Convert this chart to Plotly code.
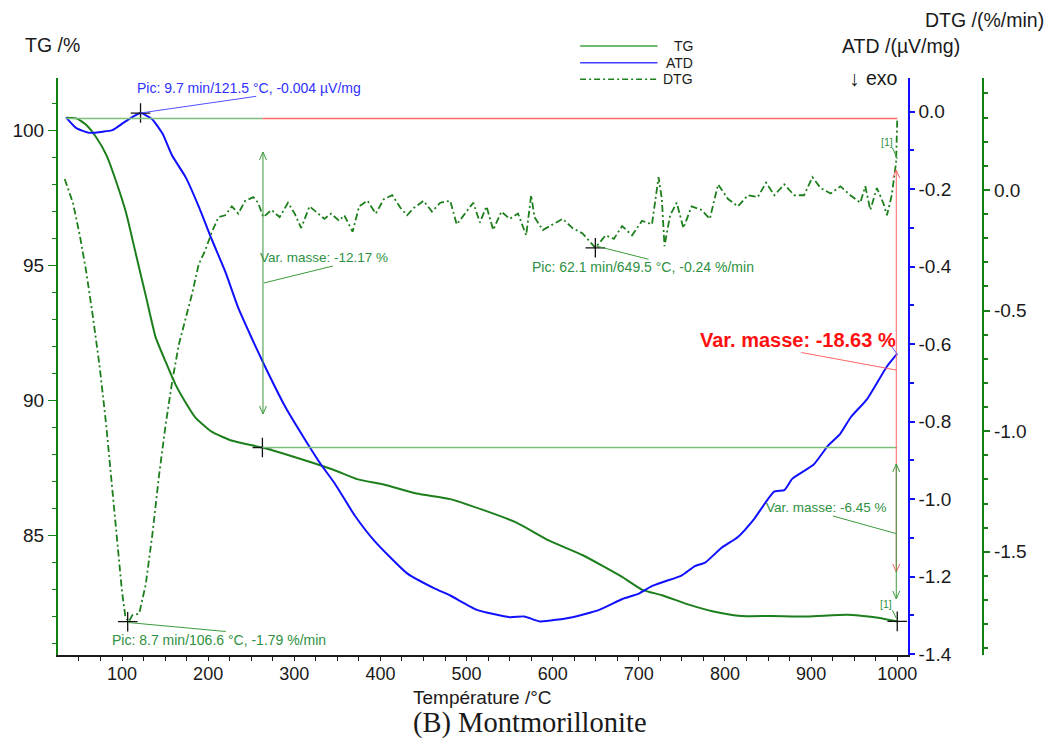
import plotly.graph_objects as go

# ---------------------------------------------------------------
# Data (temperature in °C)
# ---------------------------------------------------------------
TG_T = [35, 47, 58, 70, 82, 93, 105, 116, 128, 139, 151, 162, 174, 185, 204,
        228, 263, 300, 346, 373, 404, 442, 481, 519, 558, 596, 635, 681, 704,
        727, 757, 788, 819, 854, 896, 942, 972, 1000]
TG_PCT = [100.45, 100.43, 100.2, 99.73, 99.06, 98.11, 96.9, 95.42, 93.81, 92.33,
          91.39, 90.58, 89.9, 89.36, 88.83, 88.49, 88.24, 87.89, 87.41, 87.07,
          86.87, 86.54, 86.33, 85.93, 85.46, 84.79, 84.25, 83.44, 82.97, 82.77,
          82.43, 82.16, 82.0, 82.0, 81.98, 82.05, 81.96, 81.80]

ATD_T = [35, 47, 62, 78, 89, 105, 121.5, 135, 147, 158, 174, 189, 204, 220, 235,
         250, 266, 289, 312, 331, 347, 370, 393, 431, 462, 481, 512, 550, 567,
         585, 623, 654, 681, 700, 715, 730, 750, 765, 777, 796, 815, 834, 857,
         869, 878, 903, 919, 934, 946, 965, 988, 1000]
ATD_UV = [-0.015, -0.043, -0.055, -0.052, -0.048, -0.024, -0.004, -0.02, -0.057,
          -0.113, -0.17, -0.245, -0.329, -0.414, -0.507, -0.582, -0.658, -0.76,
          -0.845, -0.911, -0.96, -1.042, -1.108, -1.192, -1.23, -1.249, -1.286,
          -1.305, -1.303, -1.316, -1.305, -1.286, -1.258, -1.244, -1.225, -1.213,
          -1.197, -1.173, -1.164, -1.126, -1.098, -1.051, -0.981, -0.977, -0.948,
          -0.911, -0.864, -0.831, -0.789, -0.742, -0.658, -0.625]

DTG_T = [33.5, 37, 43, 51, 58.5, 66, 74, 81.6, 89, 95, 100, 104, 108, 112, 116,
         120, 127.6, 135.4, 143, 150.7, 158.4, 166, 173.7, 181.4, 189, 196.8,
         204.5, 212, 219.8, 227.5, 235, 243, 252.5, 258, 264, 273.6, 283, 292.7,
         300.5, 308, 317.7, 327.3, 335, 342.7, 352, 358, 367.7, 375.3, 385, 394.6,
         404, 413.7, 423.4, 431, 438.7, 450, 459.8, 469.4, 481, 488.6, 498.3,
         507.8, 515.5, 523.2, 530.9, 540.4, 550, 559.7, 569.2, 575, 578.9, 588.5,
         600, 611.5, 623, 634.6, 649.5, 661.4, 671, 680.6, 692.2, 703.7, 715.2,
         722.9, 726.7, 729.8, 736.3, 744, 751.7, 761.3, 772.8, 782.4, 792, 803.6,
         815, 826.6, 838, 847.7, 857.3, 868.8, 880.3, 891.8, 901.5, 911, 922.6,
         934, 945.6, 957.1, 962.9, 968.7, 976.3, 984, 988, 993.6, 998.6, 1000]
DTG_RATE = [0.045, 0.008, -0.053, -0.188, -0.339, -0.52, -0.731, -0.972, -1.243,
            -1.469, -1.665, -1.771, -1.79, -1.763, -1.76, -1.756, -1.635, -1.424,
            -1.183, -0.972, -0.791, -0.641, -0.535, -0.43, -0.309, -0.249, -0.173,
            -0.113, -0.105, -0.068, -0.098, -0.045, -0.03, -0.053, -0.113, -0.083,
            -0.113, -0.053, -0.098, -0.158, -0.068, -0.098, -0.12, -0.098, -0.128,
            -0.105, -0.173, -0.068, -0.045, -0.098, -0.038, -0.022, -0.075, -0.105,
            -0.075, -0.045, -0.09, -0.053, -0.045, -0.143, -0.098, -0.053, -0.135,
            -0.068, -0.166, -0.09, -0.12, -0.098, -0.188, -0.022, -0.113, -0.166,
            -0.143, -0.12, -0.158, -0.18, -0.24, -0.188, -0.203, -0.15, -0.188,
            -0.128, -0.143, 0.053, -0.038, -0.233, -0.105, -0.053, -0.158, -0.068,
            -0.083, -0.12, 0.023, -0.038, -0.068, -0.022, -0.03, 0.03, -0.022,
            0.023, -0.022, -0.022, 0.053, 0.008, -0.015, 0.015, -0.022, -0.053,
            0.015, -0.083, 0.008, -0.056, -0.105, -0.022, 0.113, 0.294]

# peaks / steps given by the software labels
ATD_PEAK_T, ATD_PEAK = [121.5], [-0.004]
DTG_PEAK_T, DTG_PEAK = [106.6, 649.5], [-1.79, -0.24]
TG_STEP_T, TG_STEP = [263, 1000], [88.24, 81.80]
TG_START = 100.43

X_TICKS = [100, 200, 300, 400, 500, 600, 700, 800, 900, 1000]
TG_TICKS = [85, 90, 95, 100]
ATD_TICKS = [0.0, -0.2, -0.4, -0.6, -0.8, -1.0, -1.2, -1.4]
ATD_LABELS = ["0.0", "-0.2", "-0.4", "-0.6", "-0.8", "-1.0", "-1.2", "-1.4"]
DTG_TICKS = [0.0, -0.5, -1.0, -1.5]
DTG_LABELS = ["0.0", "-0.5", "-1.0", "-1.5"]

# ---------------------------------------------------------------
# Page geometry (pixels) -> paper coords
# ---------------------------------------------------------------
W, H = 1046, 740
ML, MR, MT, MB = 51, 46, 78, 85
PW, PH = W - ML - MR, H - MT - MB


def px(x):
    return (x - ML) / PW


def py(y):
    return (H - MB - y) / PH


GREEN = "#1c7f1c"
LGREEN = "#7cc07c"
BLUE = "#1010ff"
RED = "#ff6666"
TXT_GREEN = "#2e9142"
FONT = "Liberation Sans, Arial, sans-serif"

fig = go.Figure()

fig.add_trace(go.Scatter(
    x=TG_T, y=TG_PCT, mode="lines", yaxis="y",
    line=dict(color=GREEN, width=2, shape="spline", smoothing=0.5),
    hoverinfo="skip"))
fig.add_trace(go.Scatter(
    x=ATD_T, y=ATD_UV, mode="lines", yaxis="y2",
    line=dict(color=BLUE, width=2, shape="spline", smoothing=0.5),
    hoverinfo="skip"))
fig.add_trace(go.Scatter(
    x=DTG_T, y=DTG_RATE, mode="lines", yaxis="y3",
    line=dict(color=GREEN, width=1.8, dash="7px,3px,2px,3px"),
    hoverinfo="skip"))

# "+" markers on the picked points
cross = dict(symbol="cross-thin", size=14, line=dict(width=1.3, color="#111111"))
fig.add_trace(go.Scatter(x=ATD_PEAK_T, y=ATD_PEAK, mode="markers", yaxis="y2",
                         marker=cross, hoverinfo="skip"))
fig.add_trace(go.Scatter(x=DTG_PEAK_T, y=DTG_PEAK, mode="markers", yaxis="y3",
                         marker=cross, hoverinfo="skip"))
fig.add_trace(go.Scatter(x=TG_STEP_T, y=TG_STEP, mode="markers", yaxis="y",
                         marker=cross, hoverinfo="skip"))

shapes = []


def line_px(x0, y0, x1, y1, color, width=1, dash=None):
    shapes.append(dict(type="line", xref="paper", yref="paper",
                       x0=px(x0), y0=py(y0), x1=px(x1), y1=py(y1),
                       line=dict(color=color, width=width, dash=dash)))


def varrow(x, ytop, ybot, color):
    line_px(x, ytop, x, ybot, color, 1)
    for tip, s in ((ytop, 1), (ybot, -1)):
        shapes.append(dict(
            type="path", xref="paper", yref="paper",
            path=f"M {px(x - 3.5)},{py(tip + 8 * s)} L {px(x)},{py(tip)} "
                 f"L {px(x + 3.5)},{py(tip + 8 * s)}",
            line=dict(color=color, width=1)))


# step baselines (data coords)
shapes.append(dict(type="line", xref="x", yref="y", x0=TG_T[0], x1=TG_STEP_T[0],
                   y0=TG_START, y1=TG_START, line=dict(color=LGREEN, width=1.5)))
shapes.append(dict(type="line", xref="x", yref="y", x0=TG_STEP_T[0], x1=TG_STEP_T[1],
                   y0=TG_START, y1=TG_START, line=dict(color=RED, width=1.5)))
shapes.append(dict(type="line", xref="x", yref="y", x0=TG_STEP_T[0], x1=TG_STEP_T[1],
                   y0=TG_STEP[0], y1=TG_STEP[0], line=dict(color=LGREEN, width=1.5)))

# mass-change arrows
varrow(257.5, 152, 414, "#3c9a3c")
varrow(895.5, 170, 572, RED)
varrow(895.5, 464, 599, "#3c9a3c")

# leader lines
line_px(134.2, 113, 250.7, 96.3, "#5050ff")
line_px(258.3, 283, 328, 266, "#3c9a3c")
line_px(593.3, 246, 646, 259.3, "#3c9a3c")
line_px(121.7, 622.5, 220, 631.5, "#3c9a3c")
line_px(831.7, 516, 895, 533.5, "#3c9a3c")
line_px(800, 352.5, 895.3, 370, RED)
line_px(886.7, 340.8, 897, 355, "#6060ff")
line_px(891.7, 148, 896.7, 159, "#3c9a3c")
line_px(891.7, 610.5, 896, 618.9, "#3c9a3c")

# legend samples
line_px(577, 46, 655, 46, "#3fa33f", 1.5)
line_px(577, 62.7, 655, 62.7, "#4040ff", 1.5)
line_px(577, 79.3, 655, 79.3, GREEN, 1.5, "6px,3px,2px,3px")

annotations = []
PAD = 5  # plotly adds a few px of padding inside left-anchored annotations


def text_px(s, x, y, anchor="left", size=14, color="#1a1a1a", family=FONT, bold=False):
    if anchor == "left":
        x -= PAD
    annotations.append(dict(
        text=f"<b>{s}</b>" if bold else s, xref="paper", yref="paper",
        x=px(x), y=py(y), xanchor=anchor, yanchor="middle", showarrow=False,
        font=dict(size=size, color=color, family=family), borderpad=0))


text_px("TG /%", 22, 45, size=19.5)
text_px("ATD /(µV/mg)", 845, 46, size=19.5)
text_px("DTG /(%/min)", 1045, 20, anchor="right", size=19.5)
text_px("↓", 853, 78, anchor="center", size=21)
text_px("exo", 869, 78, size=19.5)
text_px("Température /°C", 479, 697, anchor="center", size=19)
text_px("(B) Montmorillonite", 527, 723, anchor="center", size=28.5,
        family="Liberation Serif, Times New Roman, serif")

text_px("TG", 692, 46, anchor="right", size=14)
text_px("ATD", 692, 62.7, anchor="right", size=14)
text_px("DTG", 692, 79.3, anchor="right", size=14)

text_px("Pic: 9.7 min/121.5 °C, -0.004 µV/mg", 135, 88, color="#3030ff")
text_px("Var. masse: -12.17 %", 258.6, 257, size=13.5, color=TXT_GREEN)
text_px("Pic: 62.1 min/649.5 °C, -0.24 %/min", 532.5, 267.4, color=TXT_GREEN)
text_px("Pic: 8.7 min/106.6 °C, -1.79 %/min", 109, 640, color=TXT_GREEN)
text_px("Var. masse: -6.45 %", 768.3, 508, size=13.5, color=TXT_GREEN)
text_px("Var. masse: -18.63 %", 701.7, 340, size=20, color="#ff1010", bold=True)
text_px("[1]", 884, 142, size=10.5, color=TXT_GREEN)
text_px("[1]", 883, 604.4, size=10.5, color=TXT_GREEN)

tick_font = dict(family=FONT, size=19, color="#1a1a1a")

fig.update_layout(
    width=W, height=H,
    margin=dict(l=ML, r=MR, t=MT, b=MB),
    paper_bgcolor="white", plot_bgcolor="white",
    showlegend=False, hovermode=False,
    font=dict(family=FONT),
    shapes=shapes, annotations=annotations,
    xaxis=dict(
        domain=[0, px(907)], range=[25.7, 1012.1],
        tickvals=X_TICKS, ticks="outside", ticklen=4, tickwidth=1,
        tickcolor="#1a1a1a", tickfont=dict(family=FONT, size=18, color="#1a1a1a"),
        ticklabelstandoff=-3,
        minor=dict(dtick=25, tick0=0, ticks="outside", ticklen=4, tickcolor="#1a1a1a"),
        showline=True, linecolor="#1a1a1a", linewidth=2,
        showgrid=False, zeroline=False),
    yaxis=dict(
        range=[80.556, 101.926], tickvals=TG_TICKS,
        ticks="outside", ticklen=8, tickwidth=1, tickcolor=GREEN, tickfont=tick_font,
        minor=dict(dtick=1, tick0=0, ticks="outside", ticklen=4, tickcolor=GREEN),
        showline=True, linecolor="#108010", linewidth=2,
        showgrid=False, zeroline=False),
    yaxis2=dict(
        overlaying="y", side="right", anchor="x",
        range=[-1.4026, 0.0865], tickvals=ATD_TICKS, ticktext=ATD_LABELS,
        ticks="outside", ticklen=5, tickwidth=1.5, tickcolor=BLUE, tickfont=tick_font,
        minor=dict(dtick=0.1, tick0=0, ticks="outside", ticklen=4, tickcolor=BLUE),
        showline=True, linecolor=BLUE, linewidth=2,
        showgrid=False, zeroline=False),
    yaxis3=dict(
        overlaying="y", side="right", anchor="free", position=px(983),
        range=[-1.928, 0.464], tickvals=DTG_TICKS, ticktext=DTG_LABELS,
        ticks="outside", ticklen=6, tickwidth=1.5, tickcolor=GREEN, tickfont=tick_font,
        minor=dict(dtick=0.1, tick0=0, ticks="outside", ticklen=4, tickcolor=GREEN),
        showline=True, linecolor="#108010", linewidth=2,
        showgrid=False, zeroline=False),
)

# drop the default 8px page margin so the figure sits at the window origin
fig.write_html("out.html", config={"displayModeBar": False},
               post_script="document.body.style.margin='0';")
